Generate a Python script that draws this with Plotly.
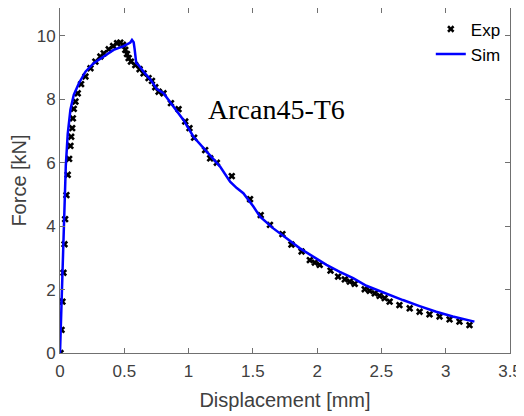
import plotly.graph_objects as go

# Experimental data (Displacement [mm], Force [kN])
exp_x = [0.004, 0.012, 0.019, 0.027, 0.035, 0.040, 0.050, 0.060, 0.071, 0.081, 0.087, 0.095,
         0.100, 0.107, 0.120, 0.138, 0.164, 0.198, 0.237, 0.275, 0.314, 0.340, 0.379, 0.413,
         0.444, 0.469, 0.490, 0.508, 0.521, 0.534, 0.552, 0.586, 0.619, 0.650, 0.689, 0.715,
         0.741, 0.767, 0.805, 0.863, 0.922, 0.974, 1.007, 1.043, 1.129, 1.168, 1.220, 1.336,
         1.478, 1.561, 1.633, 1.730, 1.800, 1.879, 1.943, 1.982, 2.020, 2.104, 2.163, 2.215,
         2.254, 2.292, 2.370, 2.409, 2.448, 2.486, 2.525, 2.564, 2.640, 2.720, 2.797, 2.874,
         2.952, 3.030, 3.107, 3.185]
exp_y = [0.00, 0.73, 1.62, 2.53, 3.43, 4.22, 4.98, 5.62, 6.12, 6.53, 6.82, 7.09,
         7.40, 7.70, 7.93, 8.19, 8.48, 8.72, 8.98, 9.19, 9.35, 9.45, 9.58, 9.68,
         9.77, 9.79, 9.72, 9.56, 9.43, 9.30, 9.19, 9.08, 8.95, 8.82, 8.67, 8.58,
         8.38, 8.24, 8.19, 7.88, 7.69, 7.30, 7.09, 6.79, 6.40, 6.14, 6.00, 5.58,
         4.85, 4.35, 4.04, 3.75, 3.42, 3.20, 2.93, 2.85, 2.78, 2.60, 2.41, 2.32,
         2.25, 2.18, 2.01, 1.96, 1.88, 1.80, 1.73, 1.62, 1.51, 1.41, 1.30, 1.22,
         1.15, 1.06, 0.99, 0.88]

# Simulation curve
sim_x = [0.0, 0.015, 0.030, 0.045, 0.060, 0.068, 0.081, 0.107, 0.146, 0.198, 0.262, 0.340,
         0.417, 0.495, 0.547, 0.560, 0.573, 0.580, 0.586, 0.593, 0.611, 0.650, 0.702, 0.754,
         0.805, 0.857, 0.960, 1.038, 1.142, 1.245, 1.323, 1.375, 1.426, 1.478, 1.504, 1.556,
         1.659, 1.762, 1.866, 1.969, 2.073, 2.176, 2.280, 2.383, 2.486, 2.538, 2.667, 2.797,
         2.926, 3.055, 3.159, 3.223]
sim_y = [0.0, 2.0, 4.0, 5.9, 6.9, 7.2, 7.67, 8.14, 8.50, 8.87, 9.14, 9.35,
         9.56, 9.68, 9.79, 9.87, 9.80, 9.60, 9.40, 9.14, 9.08, 8.87, 8.63, 8.32,
         8.19, 7.90, 7.35, 6.82, 6.35, 5.88, 5.40, 5.20, 5.04, 4.77, 4.62, 4.30,
         3.93, 3.62, 3.30, 3.04, 2.78, 2.56, 2.36, 2.12, 1.95, 1.86, 1.67, 1.48,
         1.30, 1.15, 1.04, 0.99]

x_ticks = [0, 0.5, 1, 1.5, 2, 2.5, 3, 3.5]
x_tick_labels = ["0", "0.5", "1", "1.5", "2", "2.5", "3", "3.5"]
y_ticks = [0, 2, 4, 6, 8, 10]
y_tick_labels = ["0", "2", "4", "6", "8", "10"]

FONT = "Liberation Sans, Arial"

fig = go.Figure()
fig.add_trace(go.Scatter(x=exp_x, y=exp_y, mode="markers", name="Exp",
                         marker=dict(symbol="x", size=6.5, color="black")))
fig.add_trace(go.Scatter(x=sim_x, y=sim_y, mode="lines", name="Sim",
                         line=dict(color="#0000ff", width=2.5)))

axis_common = dict(showline=True, linecolor="#707070", linewidth=1, mirror="ticks",
                   ticks="inside", ticklen=5, tickcolor="#707070", showgrid=False,
                   zeroline=False, automargin=False,
                   tickfont=dict(family=FONT, size=17, color="#404040"))

fig.update_xaxes(range=[0, 3.5], tickvals=x_ticks, ticktext=x_tick_labels,
                 ticklabelstandoff=3,
                 title=dict(text="Displacement [mm]", font=dict(family=FONT, size=20, color="#404040"), standoff=12),
                 **axis_common)
fig.update_yaxes(range=[0, 10.88], tickvals=y_ticks, ticktext=y_tick_labels,
                 title=dict(text="Force [kN]", font=dict(family=FONT, size=20, color="#404040"), standoff=6),
                 **axis_common)

fig.add_annotation(text="Arcan45-T6", x=0.48, y=0.7565,
                   xref="paper", yref="paper", showarrow=False,
                   font=dict(family="Liberation Serif, Times New Roman", size=28, color="black"))

# The page body has an 8 px default margin, so the figure is sized/margined to compensate.
fig.update_layout(
    width=516, height=408,
    margin=dict(l=52, r=14, t=0, b=63),
    paper_bgcolor="white", plot_bgcolor="white",
    legend=dict(x=0.824, y=0.99, xanchor="left", yanchor="top",
                bgcolor="rgba(0,0,0,0)", borderwidth=0,
                font=dict(family=FONT, size=17, color="black"),
                tracegroupgap=0),
    showlegend=True,
)

fig.write_html("out.html")
